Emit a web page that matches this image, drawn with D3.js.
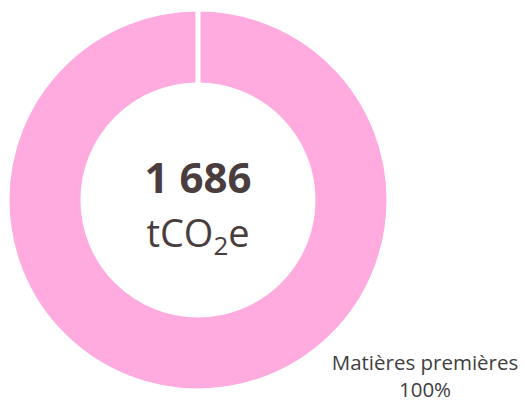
<!DOCTYPE html>
<html>
<head>
<meta charset="utf-8">
<script src="https://cdn.jsdelivr.net/npm/d3@7"></script>
<style>
  body { margin: 0; background: #fff; }
  text { font-family: "Open Sans", sans-serif; }
</style>
</head>
<body>
<div id="chart"></div>
<script>
// chart data
const categories = ["Matières premières"];
const values = [1686];
const colors = ["#ffabe0"];
const totalLabel = "1 686";
const unitLabel = ["tCO", "2", "e"];

const width = 525, height = 403;
const cx = 198, cy = 200;
const outerR = 191, innerR = 115;

const svg = d3.select("#chart")
    .append("svg")
    .attr("width", width)
    .attr("height", height);

const g = svg.append("g")
    .attr("transform", `translate(${cx},${cy})`);

const pie = d3.pie().sort(null).value(d => d);
const arcs = pie(values);
const total = d3.sum(values);

const arc = d3.arc().innerRadius(innerR).outerRadius(outerR);

g.selectAll("path.slice")
    .data(arcs)
    .join("path")
    .attr("class", "slice")
    .attr("d", arc)
    .attr("fill", (d, i) => colors[i])
    .attr("stroke", "#fff")
    .attr("stroke-width", 5);

// slice borders (seams between slices)
g.selectAll("line.seam")
    .data(arcs)
    .join("line")
    .attr("class", "seam")
    .attr("x1", d => Math.sin(d.startAngle) * (innerR - 3))
    .attr("y1", d => -Math.cos(d.startAngle) * (innerR - 3))
    .attr("x2", d => Math.sin(d.startAngle) * (outerR + 3))
    .attr("y2", d => -Math.cos(d.startAngle) * (outerR + 3))
    .attr("stroke", "#fff")
    .attr("stroke-width", 5);

// center labels
g.append("text")
    .attr("text-anchor", "middle")
    .attr("y", -7)
    .attr("font-size", 42)
    .attr("font-weight", "bold")
    .attr("fill", "#4a3d3d")
    .text(totalLabel);

const unit = g.append("text")
    .attr("text-anchor", "middle")
    .attr("y", 47)
    .attr("font-size", 38)
    .attr("fill", "#4a3d3d");
unit.append("tspan").text(unitLabel[0]);
unit.append("tspan").attr("font-size", 26).attr("dy", 8).text(unitLabel[1]);
unit.append("tspan").attr("dy", -8).text(unitLabel[2]);

// slice labels
const labelPos = [[425, 370]];
arcs.forEach((d, i) => {
    const t = svg.append("text")
        .attr("text-anchor", "middle")
        .attr("font-size", 20.5)
        .attr("fill", "#404040");
    t.append("tspan").attr("x", labelPos[i][0]).attr("y", labelPos[i][1]).text(categories[i]);
    t.append("tspan").attr("x", labelPos[i][0]).attr("y", labelPos[i][1] + 27)
        .text(d3.format(".0%")(d.value / total));
});
</script>
</body>
</html>
